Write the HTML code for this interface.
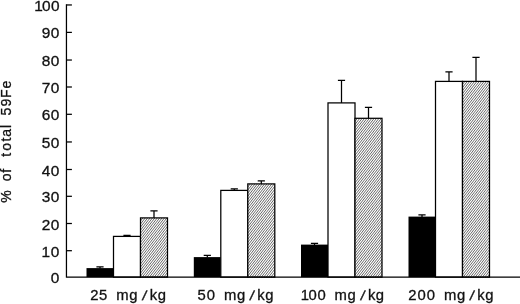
<!DOCTYPE html>
<html><head><meta charset="utf-8"><title>chart</title>
<style>html,body{margin:0;padding:0;background:#fff;}svg{display:block;}text{font-family:"Liberation Sans",sans-serif;fill:#111;stroke:#111;stroke-width:0.3px;}text.s{stroke-width:0;}</style></head><body>
<svg width="520" height="304" viewBox="0 0 520 304">
<rect width="520" height="304" fill="#fff"/>
<path d="M100.0 268.4 V266.9 M96.4 266.9 H103.6" stroke="#000" stroke-width="1.25" fill="none"/>
<rect x="86.5" y="268.10" width="27" height="9.00" fill="#000"/>
<path d="M127.0 236.4 V235.4 M123.4 235.4 H130.6" stroke="#000" stroke-width="1.25" fill="none"/>
<rect x="113.5" y="236.4" width="27" height="40.70" fill="#fff" stroke="#000" stroke-width="1.25"/>
<path d="M154.0 217.9 V210.9 M150.4 210.9 H157.6" stroke="#000" stroke-width="1.25" fill="none"/>
<clipPath id="c86"><rect x="140.5" y="217.9" width="27" height="59.20"/></clipPath>
<rect x="140.5" y="217.9" width="27" height="59.20" fill="#fff"/>
<g clip-path="url(#c86)"><path d="M91.85 277.10l46.25 -59.20M94.25 277.10l46.25 -59.20M96.65 277.10l46.25 -59.20M99.05 277.10l46.25 -59.20M101.45 277.10l46.25 -59.20M103.85 277.10l46.25 -59.20M106.25 277.10l46.25 -59.20M108.65 277.10l46.25 -59.20M111.05 277.10l46.25 -59.20M113.45 277.10l46.25 -59.20M115.85 277.10l46.25 -59.20M118.25 277.10l46.25 -59.20M120.65 277.10l46.25 -59.20M123.05 277.10l46.25 -59.20M125.45 277.10l46.25 -59.20M127.85 277.10l46.25 -59.20M130.25 277.10l46.25 -59.20M132.65 277.10l46.25 -59.20M135.05 277.10l46.25 -59.20M137.45 277.10l46.25 -59.20M139.85 277.10l46.25 -59.20M142.25 277.10l46.25 -59.20M144.65 277.10l46.25 -59.20M147.05 277.10l46.25 -59.20M149.45 277.10l46.25 -59.20M151.85 277.10l46.25 -59.20M154.25 277.10l46.25 -59.20M156.65 277.10l46.25 -59.20M159.05 277.10l46.25 -59.20M161.45 277.10l46.25 -59.20M163.85 277.10l46.25 -59.20M166.25 277.10l46.25 -59.20M168.65 277.10l46.25 -59.20" stroke="#000" stroke-width="0.6" fill="none"/></g>
<rect x="140.5" y="217.9" width="27" height="59.20" fill="none" stroke="#000" stroke-width="1.25"/>
<path d="M207.3 257.4 V255.4 M203.70000000000002 255.4 H210.9" stroke="#000" stroke-width="1.25" fill="none"/>
<rect x="193.8" y="257.10" width="27" height="20.00" fill="#000"/>
<path d="M234.3 190.4 V188.9 M230.70000000000002 188.9 H237.9" stroke="#000" stroke-width="1.25" fill="none"/>
<rect x="220.8" y="190.4" width="27" height="86.70" fill="#fff" stroke="#000" stroke-width="1.25"/>
<path d="M261.3 183.9 V180.9 M257.7 180.9 H264.90000000000003" stroke="#000" stroke-width="1.25" fill="none"/>
<clipPath id="c193"><rect x="247.8" y="183.9" width="27" height="93.20"/></clipPath>
<rect x="247.8" y="183.9" width="27" height="93.20" fill="#fff"/>
<g clip-path="url(#c193)"><path d="M172.58 277.10l72.82 -93.20M174.98 277.10l72.82 -93.20M177.38 277.10l72.82 -93.20M179.78 277.10l72.82 -93.20M182.18 277.10l72.82 -93.20M184.58 277.10l72.82 -93.20M186.98 277.10l72.82 -93.20M189.38 277.10l72.82 -93.20M191.78 277.10l72.82 -93.20M194.18 277.10l72.82 -93.20M196.58 277.10l72.82 -93.20M198.98 277.10l72.82 -93.20M201.38 277.10l72.82 -93.20M203.78 277.10l72.82 -93.20M206.18 277.10l72.82 -93.20M208.58 277.10l72.82 -93.20M210.98 277.10l72.82 -93.20M213.38 277.10l72.82 -93.20M215.78 277.10l72.82 -93.20M218.18 277.10l72.82 -93.20M220.58 277.10l72.82 -93.20M222.98 277.10l72.82 -93.20M225.38 277.10l72.82 -93.20M227.78 277.10l72.82 -93.20M230.18 277.10l72.82 -93.20M232.58 277.10l72.82 -93.20M234.98 277.10l72.82 -93.20M237.38 277.10l72.82 -93.20M239.78 277.10l72.82 -93.20M242.18 277.10l72.82 -93.20M244.58 277.10l72.82 -93.20M246.98 277.10l72.82 -93.20M249.38 277.10l72.82 -93.20M251.78 277.10l72.82 -93.20M254.18 277.10l72.82 -93.20M256.58 277.10l72.82 -93.20M258.98 277.10l72.82 -93.20M261.38 277.10l72.82 -93.20M263.78 277.10l72.82 -93.20M266.18 277.10l72.82 -93.20M268.58 277.10l72.82 -93.20M270.98 277.10l72.82 -93.20M273.38 277.10l72.82 -93.20M275.78 277.10l72.82 -93.20" stroke="#000" stroke-width="0.6" fill="none"/></g>
<rect x="247.8" y="183.9" width="27" height="93.20" fill="none" stroke="#000" stroke-width="1.25"/>
<path d="M314.5 244.9 V243.4 M310.9 243.4 H318.1" stroke="#000" stroke-width="1.25" fill="none"/>
<rect x="301" y="244.60" width="27" height="32.50" fill="#000"/>
<path d="M341.5 102.9 V80.4 M337.9 80.4 H345.1" stroke="#000" stroke-width="1.25" fill="none"/>
<rect x="328" y="102.9" width="27" height="174.20" fill="#fff" stroke="#000" stroke-width="1.25"/>
<path d="M368.5 118.30000000000001 V107.4 M364.9 107.4 H372.1" stroke="#000" stroke-width="1.25" fill="none"/>
<clipPath id="c301"><rect x="355" y="118.30000000000001" width="27" height="158.80"/></clipPath>
<rect x="355" y="118.30000000000001" width="27" height="158.80" fill="#fff"/>
<g clip-path="url(#c301)"><path d="M228.53 277.10l124.07 -158.80M230.93 277.10l124.07 -158.80M233.33 277.10l124.07 -158.80M235.73 277.10l124.07 -158.80M238.13 277.10l124.07 -158.80M240.53 277.10l124.07 -158.80M242.93 277.10l124.07 -158.80M245.33 277.10l124.07 -158.80M247.73 277.10l124.07 -158.80M250.13 277.10l124.07 -158.80M252.53 277.10l124.07 -158.80M254.93 277.10l124.07 -158.80M257.33 277.10l124.07 -158.80M259.73 277.10l124.07 -158.80M262.13 277.10l124.07 -158.80M264.53 277.10l124.07 -158.80M266.93 277.10l124.07 -158.80M269.33 277.10l124.07 -158.80M271.73 277.10l124.07 -158.80M274.13 277.10l124.07 -158.80M276.53 277.10l124.07 -158.80M278.93 277.10l124.07 -158.80M281.33 277.10l124.07 -158.80M283.73 277.10l124.07 -158.80M286.13 277.10l124.07 -158.80M288.53 277.10l124.07 -158.80M290.93 277.10l124.07 -158.80M293.33 277.10l124.07 -158.80M295.73 277.10l124.07 -158.80M298.13 277.10l124.07 -158.80M300.53 277.10l124.07 -158.80M302.93 277.10l124.07 -158.80M305.33 277.10l124.07 -158.80M307.73 277.10l124.07 -158.80M310.13 277.10l124.07 -158.80M312.53 277.10l124.07 -158.80M314.93 277.10l124.07 -158.80M317.33 277.10l124.07 -158.80M319.73 277.10l124.07 -158.80M322.13 277.10l124.07 -158.80M324.53 277.10l124.07 -158.80M326.93 277.10l124.07 -158.80M329.33 277.10l124.07 -158.80M331.73 277.10l124.07 -158.80M334.13 277.10l124.07 -158.80M336.53 277.10l124.07 -158.80M338.93 277.10l124.07 -158.80M341.33 277.10l124.07 -158.80M343.73 277.10l124.07 -158.80M346.13 277.10l124.07 -158.80M348.53 277.10l124.07 -158.80M350.93 277.10l124.07 -158.80M353.33 277.10l124.07 -158.80M355.73 277.10l124.07 -158.80M358.13 277.10l124.07 -158.80M360.53 277.10l124.07 -158.80M362.93 277.10l124.07 -158.80M365.33 277.10l124.07 -158.80M367.73 277.10l124.07 -158.80M370.13 277.10l124.07 -158.80M372.53 277.10l124.07 -158.80M374.93 277.10l124.07 -158.80M377.33 277.10l124.07 -158.80M379.73 277.10l124.07 -158.80M382.13 277.10l124.07 -158.80" stroke="#000" stroke-width="0.6" fill="none"/></g>
<rect x="355" y="118.30000000000001" width="27" height="158.80" fill="none" stroke="#000" stroke-width="1.25"/>
<path d="M422.0 216.9 V214.9 M418.4 214.9 H425.6" stroke="#000" stroke-width="1.25" fill="none"/>
<rect x="408.5" y="216.60" width="27" height="60.50" fill="#000"/>
<path d="M449.0 81.4 V71.9 M445.4 71.9 H452.6" stroke="#000" stroke-width="1.25" fill="none"/>
<rect x="435.5" y="81.4" width="27" height="195.70" fill="#fff" stroke="#000" stroke-width="1.25"/>
<path d="M476.0 81.4 V57.4 M472.4 57.4 H479.6" stroke="#000" stroke-width="1.25" fill="none"/>
<clipPath id="c408"><rect x="462.5" y="81.4" width="27" height="195.70"/></clipPath>
<rect x="462.5" y="81.4" width="27" height="195.70" fill="#fff"/>
<g clip-path="url(#c408)"><path d="M307.20 277.10l152.90 -195.70M309.60 277.10l152.90 -195.70M312.00 277.10l152.90 -195.70M314.40 277.10l152.90 -195.70M316.80 277.10l152.90 -195.70M319.20 277.10l152.90 -195.70M321.60 277.10l152.90 -195.70M324.00 277.10l152.90 -195.70M326.40 277.10l152.90 -195.70M328.80 277.10l152.90 -195.70M331.20 277.10l152.90 -195.70M333.60 277.10l152.90 -195.70M336.00 277.10l152.90 -195.70M338.40 277.10l152.90 -195.70M340.80 277.10l152.90 -195.70M343.20 277.10l152.90 -195.70M345.60 277.10l152.90 -195.70M348.00 277.10l152.90 -195.70M350.40 277.10l152.90 -195.70M352.80 277.10l152.90 -195.70M355.20 277.10l152.90 -195.70M357.60 277.10l152.90 -195.70M360.00 277.10l152.90 -195.70M362.40 277.10l152.90 -195.70M364.80 277.10l152.90 -195.70M367.20 277.10l152.90 -195.70M369.60 277.10l152.90 -195.70M372.00 277.10l152.90 -195.70M374.40 277.10l152.90 -195.70M376.80 277.10l152.90 -195.70M379.20 277.10l152.90 -195.70M381.60 277.10l152.90 -195.70M384.00 277.10l152.90 -195.70M386.40 277.10l152.90 -195.70M388.80 277.10l152.90 -195.70M391.20 277.10l152.90 -195.70M393.60 277.10l152.90 -195.70M396.00 277.10l152.90 -195.70M398.40 277.10l152.90 -195.70M400.80 277.10l152.90 -195.70M403.20 277.10l152.90 -195.70M405.60 277.10l152.90 -195.70M408.00 277.10l152.90 -195.70M410.40 277.10l152.90 -195.70M412.80 277.10l152.90 -195.70M415.20 277.10l152.90 -195.70M417.60 277.10l152.90 -195.70M420.00 277.10l152.90 -195.70M422.40 277.10l152.90 -195.70M424.80 277.10l152.90 -195.70M427.20 277.10l152.90 -195.70M429.60 277.10l152.90 -195.70M432.00 277.10l152.90 -195.70M434.40 277.10l152.90 -195.70M436.80 277.10l152.90 -195.70M439.20 277.10l152.90 -195.70M441.60 277.10l152.90 -195.70M444.00 277.10l152.90 -195.70M446.40 277.10l152.90 -195.70M448.80 277.10l152.90 -195.70M451.20 277.10l152.90 -195.70M453.60 277.10l152.90 -195.70M456.00 277.10l152.90 -195.70M458.40 277.10l152.90 -195.70M460.80 277.10l152.90 -195.70M463.20 277.10l152.90 -195.70M465.60 277.10l152.90 -195.70M468.00 277.10l152.90 -195.70M470.40 277.10l152.90 -195.70M472.80 277.10l152.90 -195.70M475.20 277.10l152.90 -195.70M477.60 277.10l152.90 -195.70M480.00 277.10l152.90 -195.70M482.40 277.10l152.90 -195.70M484.80 277.10l152.90 -195.70M487.20 277.10l152.90 -195.70M489.60 277.10l152.90 -195.70" stroke="#000" stroke-width="0.6" fill="none"/></g>
<rect x="462.5" y="81.4" width="27" height="195.70" fill="none" stroke="#000" stroke-width="1.25"/>
<path d="M66.45 4.3 V277.1 M65.85 277.1 H520" stroke="#000" stroke-width="1.25" fill="none"/>
<path d="M66.5 250.70 H71.9" stroke="#000" stroke-width="1.25"/>
<path d="M66.5 223.50 H71.9" stroke="#000" stroke-width="1.25"/>
<path d="M66.5 196.30 H71.9" stroke="#000" stroke-width="1.25"/>
<path d="M66.5 169.50 H71.9" stroke="#000" stroke-width="1.25"/>
<path d="M66.5 141.96 H71.9" stroke="#000" stroke-width="1.25"/>
<path d="M66.5 114.30 H71.9" stroke="#000" stroke-width="1.25"/>
<path d="M66.5 87.00 H71.9" stroke="#000" stroke-width="1.25"/>
<path d="M66.5 60.03 H71.9" stroke="#000" stroke-width="1.25"/>
<path d="M66.5 32.40 H71.9" stroke="#000" stroke-width="1.25"/>
<path d="M66.5 4.96 H71.9" stroke="#000" stroke-width="1.25"/>
<text transform="translate(0 283.10) scale(1.1 1)" font-size="14" x="46.25">0</text>
<text transform="translate(0 256.70) scale(1.1 1)" font-size="14" x="37.80 46.25">10</text>
<text transform="translate(0 229.50) scale(1.1 1)" font-size="14" x="37.98 46.25">20</text>
<text transform="translate(0 202.30) scale(1.1 1)" font-size="14" x="38.01 46.25">30</text>
<text transform="translate(0 175.50) scale(1.1 1)" font-size="14" x="38.01 46.25">40</text>
<text transform="translate(0 147.96) scale(1.1 1)" font-size="14" x="37.98 46.25">50</text>
<text transform="translate(0 120.30) scale(1.1 1)" font-size="14" x="37.94 46.25">60</text>
<text transform="translate(0 93.00) scale(1.1 1)" font-size="14" x="37.98 46.25">70</text>
<text transform="translate(0 66.03) scale(1.1 1)" font-size="14" x="37.94 46.25">80</text>
<text transform="translate(0 38.40) scale(1.1 1)" font-size="14" x="37.98 46.25">90</text>
<text transform="translate(0 10.96) scale(1.1 1)" font-size="14" x="31.08 38.16 46.43">100</text>
<text transform="translate(0 300.10) scale(1.06 1)" font-size="14" x="85.10 93.47 101.87 109.71 122.04 133.69 141.26 148.74" rotate="0 0 0 0 0 9 0 0">25 mg/kg</text>
<text transform="translate(0 300.10) scale(1.06 1)" font-size="14" x="186.26 195.03 203.43 211.22 223.55 235.20 242.77 250.25" rotate="0 0 0 0 0 9 0 0">50 mg/kg</text>
<text transform="translate(0 300.10) scale(1.06 1)" font-size="14" x="283.82 291.16 299.42 307.82 315.56 327.89 339.54 347.11 354.59" rotate="0 0 0 0 0 0 9 0 0">100 mg/kg</text>
<text transform="translate(0 300.10) scale(1.06 1)" font-size="14" x="385.22 393.99 402.58 410.98 418.77 431.10 442.74 450.31 457.80" rotate="0 0 0 0 0 0 9 0 0">200 mg/kg</text>
<text transform="translate(11.10 0) rotate(-90) scale(1.0 1)" font-size="14" x="-202.68 -194.28 -181.18 -172.81 -164.41 -156.65 -150.68 -141.50 -136.65 -127.99 -119.59 -115.39 -106.44 -98.05 -88.51">% of total 59Fe</text>
</svg></body></html>
